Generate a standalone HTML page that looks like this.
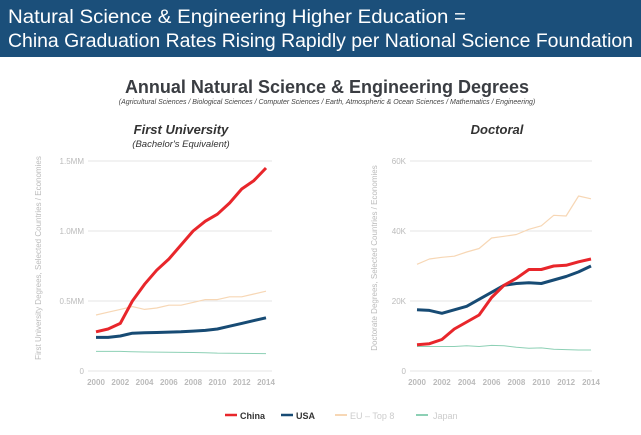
<!DOCTYPE html>
<html><head><meta charset="utf-8"><style>
body{margin:0;width:641px;height:435px;background:#fff;overflow:hidden;font-family:"Liberation Sans",sans-serif}
svg{position:absolute;left:0;top:0}
</style></head><body>
<svg id="s" width="641" height="435" xmlns="http://www.w3.org/2000/svg">
<rect x="0" y="0" width="641" height="57" fill="#1b4f7a"/>
<text x="8" y="23" font-size="19" fill="#fff" textLength="458" lengthAdjust="spacingAndGlyphs">Natural Science &amp; Engineering Higher Education =</text>
<text x="8" y="47" font-size="19" fill="#fff" textLength="625" lengthAdjust="spacingAndGlyphs">China Graduation Rates Rising Rapidly per National Science Foundation</text>
<text x="327" y="93" font-size="18" font-weight="bold" fill="#3a3d42" text-anchor="middle">Annual Natural Science &amp; Engineering Degrees</text>
<text x="327" y="104" font-size="7" font-style="italic" fill="#444" text-anchor="middle">(Agricultural Sciences / Biological Sciences / Computer Sciences / Earth, Atmospheric &amp; Ocean Sciences / Mathematics / Engineering)</text>
<text x="181" y="134" font-size="13" font-weight="bold" font-style="italic" fill="#333" text-anchor="middle">First University</text>
<text x="181" y="147" font-size="9.5" font-style="italic" fill="#333" text-anchor="middle">(Bachelor's Equivalent)</text>
<text x="497" y="134" font-size="13" font-weight="bold" font-style="italic" fill="#333" text-anchor="middle">Doctoral</text>
<g font-size="8" fill="#bbb">
<text x="41" y="258" transform="rotate(-90 41 258)" text-anchor="middle">First University Degrees, Selected Countries / Economies</text>
<text x="377" y="258" transform="rotate(-90 377 258)" text-anchor="middle">Doctorate Degrees, Selected Countries / Economies</text>
</g>
<g id="g"></g>
<g font-size="9" font-weight="bold">
<line x1="225" y1="415" x2="237" y2="415" stroke="#e8262b" stroke-width="2.5"/><text x="240" y="419" fill="#333">China</text>
<line x1="281" y1="415" x2="293" y2="415" stroke="#174b74" stroke-width="2.5"/><text x="296" y="419" fill="#333">USA</text>
<line x1="335" y1="415" x2="347" y2="415" stroke="#f7d7b5" stroke-width="2"/><text x="350" y="419" fill="#ccc" font-weight="normal">EU – Top 8</text>
<line x1="416" y1="415" x2="428" y2="415" stroke="#8dd0b5" stroke-width="2"/><text x="433" y="419" fill="#ccc" font-weight="normal">Japan</text>
</g>
</svg>
<script>
var g=document.getElementById('g'),h='';
function chart(x0,x1,gx0,gx1,labels,scale,series){
 var ys=[371,301,231,161];
 ys.forEach(function(y,i){h+='<line x1="'+gx0+'" y1="'+y+'" x2="'+gx1+'" y2="'+y+'" stroke="#e6e6e6" stroke-width="1"/>';
 h+='<text x="'+(gx0-4)+'" y="'+(y+3)+'" font-size="8" fill="#bbb" text-anchor="end">'+labels[i]+'</text>';});
 for(var k=0;k<8;k++){var yr=2000+2*k;h+='<text x="'+(x0+(x1-x0)*2*k/14)+'" y="385" font-size="8" font-weight="bold" fill="#bbb" text-anchor="middle">'+yr+'</text>';}
 series.forEach(function(s){var p=s.d.map(function(v,i){return (x0+(x1-x0)*i/14).toFixed(1)+','+(371-v*scale).toFixed(1)}).join(' ');
 h+='<polyline points="'+p+'" fill="none" stroke="'+s.c+'" stroke-width="'+s.w+'" stroke-linejoin="round"/>';});
}
chart(96,266,88,272,['0','0.5MM','1.0MM','1.5MM'],140,[
{c:'#8dd0b5',w:1,d:[.14,.14,.14,.138,.136,.135,.134,.133,.132,.131,.128,.127,.126,.125,.124]},
{c:'#f7d7b5',w:1.2,d:[.40,.42,.44,.46,.44,.45,.47,.47,.49,.51,.51,.53,.53,.55,.57]},
{c:'#174b74',w:3,d:[.24,.24,.25,.27,.273,.275,.278,.28,.285,.29,.30,.32,.34,.36,.38]},
{c:'#e8262b',w:3,d:[.28,.30,.34,.50,.62,.72,.80,.90,1.0,1.07,1.12,1.2,1.3,1.36,1.45]}]);
chart(417,591,410,592,['0','20K','40K','60K'],3.5,[
{c:'#8dd0b5',w:1,d:[7,7,7,7,7.2,7,7.3,7.2,6.8,6.5,6.6,6.2,6.1,6,6]},
{c:'#f7d7b5',w:1.2,d:[30.5,32,32.5,32.8,34,35,38,38.5,39,40.5,41.5,44.5,44.3,50,49.2]},
{c:'#174b74',w:3,d:[17.5,17.3,16.5,17.5,18.5,20.5,22.5,24.5,25,25.2,25,26,27,28.3,30]},
{c:'#e8262b',w:3,d:[7.5,7.8,9,12,14,16,21,24.5,26.5,29,29,30,30.2,31.2,32]}]);
g.innerHTML=h;
</script>
</body></html>
